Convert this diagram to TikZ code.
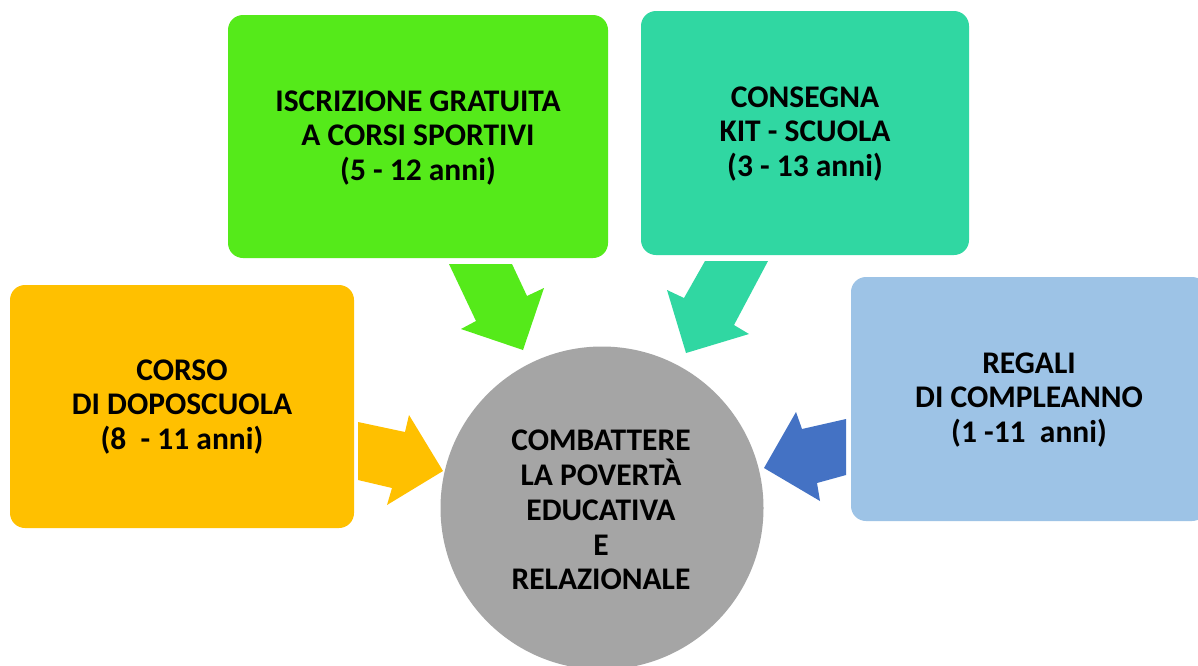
\documentclass[tikz,border=0pt]{standalone}
\usepackage{fontspec}
\setmainfont{Carlito}
\definecolor{cOrange}{HTML}{FFC000}
\definecolor{cGreen}{HTML}{55EA1A}
\definecolor{cTeal}{HTML}{30D7A2}
\definecolor{cLight}{HTML}{9DC3E6}
\definecolor{cBlue}{HTML}{4472C4}
\definecolor{cGray}{HTML}{A5A5A5}
\tikzset{
  box/.style={rounded corners=15pt, inner sep=0pt},
  lbl/.style={align=center, font=\fontsize{31.5}{34.8}\selectfont\bfseries, text=black, inner sep=0pt},
  blockarrow/.style={draw=none}
}
\begin{document}
\begin{tikzpicture}[x=1pt,y=-1pt]
\useasboundingbox (0,0) rectangle (1198,665);
\clip (0,0) rectangle (1198,665);
\fill[white] (0,0) rectangle (1198,665);
% boxes
\fill[box,cOrange] (10,285) rectangle (354,528);
\fill[box,cGreen] (228,15) rectangle (608,258);
\fill[box,cTeal] (641,11) rectangle (969,255);
\fill[box,cLight] (851,277) rectangle (1207,521);
% circle
\fill[cGray] (602,508) circle (161.5);
% block arrows
\fill[blockarrow,cOrange] (358,422) -- (405,432) -- (409,415) -- (443,471) -- (387,505) -- (392,488) -- (358,480) -- cycle;
\fill[blockarrow,cGreen] (449,264) -- (512,264) -- (527,296) -- (544,288) -- (523,350) -- (461,329) -- (476,321) -- cycle;
\fill[blockarrow,cTeal] (768,261) -- (705,261) -- (684,298) -- (667,290) -- (686,353) -- (749,334) -- (734,325) -- cycle;
\fill[blockarrow,cBlue] (846,419) -- (802,429) -- (796,412) -- (764,468) -- (820,501) -- (817,483) -- (846,475) -- cycle;
% texts
\node[lbl] (green) at (418,138) {ISCRIZIONE GRATUITA\\A CORSI SPORTIVI\\(5 - 12 anni)};
\node[lbl] (teal) at (805,134) {CONSEGNA\\ KIT - SCUOLA\\(3 - 13 anni)};
\node[lbl] (orange) at (182,407) {CORSO\\DI DOPOSCUOLA\\(8\ \ - 11 anni)};
\node[lbl] (light) at (1029,400) {REGALI\\DI COMPLEANNO\\(1 -11\ \ anni)};
\node[lbl] (center) at (601,510) {COMBATTERE\\LA POVERTÀ\\EDUCATIVA\\E\\RELAZIONALE};
\end{tikzpicture}
\end{document}
